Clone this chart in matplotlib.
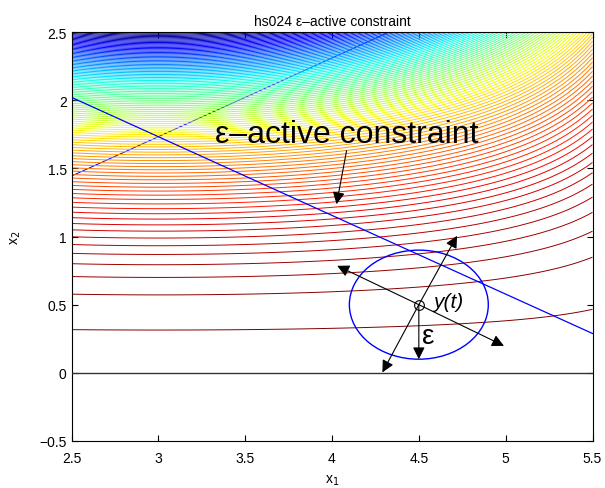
import numpy as np
import matplotlib
matplotlib.use('Agg')
import matplotlib.pyplot as plt
from matplotlib.patches import Ellipse

plt.rcParams['font.family'] = ['Liberation Sans', 'DejaVu Sans']

# hs024 objective on the plotting window
x1_range = [2.5, 5.5]
x2_range = [-0.5, 2.5]
n_levels = 100

def hs024(x1, x2):
    return ((x1 - 3.0) ** 2 - 9.0) * x2 ** 3 / (27.0 * np.sqrt(3.0))

# current point y(t), radius eps of the active region
center = (4.5, 0.5)
eps = 0.4

# arrow tips drawn from the current point
arrow_tips = [(4.03, 0.785), (4.72, 1.005), (4.99, 0.198), (4.29, 0.003), (4.5, 0.1)]

# annotation arrow for the label
label_tail = (4.084, 1.63)
label_head = (4.026, 1.237)

x1 = np.linspace(x1_range[0], x1_range[1], 400)
x2 = np.linspace(x2_range[0], x2_range[1], 400)
X1, X2 = np.meshgrid(x1, x2)
Z = hs024(X1, X2)
levels = np.linspace(Z.min(), Z.max(), n_levels + 2)[1:-1]

fig = plt.figure(figsize=(6.05, 4.89), dpi=100)
ax = fig.add_axes([71.5 / 605, 47 / 489, 521 / 605, 409 / 489])

ax.contour(X1, X2, Z, levels=levels, cmap='jet', linewidths=0.7, zorder=2)

# constraints
s3 = np.sqrt(3.0)
xl = np.array(x1_range)
ax.plot(xl, xl / s3, color='blue', lw=0.7, zorder=1)
ax.plot(xl, (6 - xl) / s3, color='blue', lw=0.9, zorder=3)
ax.plot(xl, [0, 0], color='#333333', lw=1.0, zorder=3)

# eps-ball around y(t)
ax.add_patch(Ellipse(center, 2 * eps, 2 * eps, fill=False, ec='blue', lw=1.0, zorder=4))
ax.plot(*center, marker='o', ms=7, mfc='none', mec='black', mew=0.8, zorder=6)
for tip in arrow_tips:
    ax.annotate('', xy=tip, xytext=center,
                arrowprops=dict(arrowstyle='-|>', color='black', lw=0.8,
                                mutation_scale=18, shrinkA=0, shrinkB=0),
                zorder=5)

ax.text(4.58, 0.52, 'y(t)', fontsize=15, style='italic', va='center', ha='left', zorder=6)
ax.text(4.52, 0.27, 'ε', fontsize=20, va='center', ha='left', zorder=6)

ax.annotate('', xy=label_head, xytext=label_tail,
            arrowprops=dict(arrowstyle='-|>', color='black', lw=0.8,
                            mutation_scale=18, shrinkA=0, shrinkB=0), zorder=5)
ax.text(3.326, 1.695, 'ε–active constraint', fontsize=23, va='baseline', ha='left', zorder=6)

ax.set_xlim(x1_range)
ax.set_ylim(x2_range)
ax.set_xticks(np.arange(2.5, 5.51, 0.5))
ax.set_yticks(np.arange(-0.5, 2.51, 0.5))
ax.set_xticklabels(['2.5', '3', '3.5', '4', '4.5', '5', '5.5'])
ax.set_yticklabels(['\u22120.5', '0', '0.5', '1', '1.5', '2', '2.5'])
ax.tick_params(direction='in', labelsize=10, length=4)
ax.tick_params(axis='x', pad=7)
ax.tick_params(top=True, right=True)
ax.set_xlabel('x$_1$', fontsize=10, labelpad=6)
ax.set_ylabel('x$_2$', fontsize=10, labelpad=12)
ax.set_title('hs024 ε–active constraint', fontsize=10, pad=5)

fig.savefig('out.png', dpi=100)
